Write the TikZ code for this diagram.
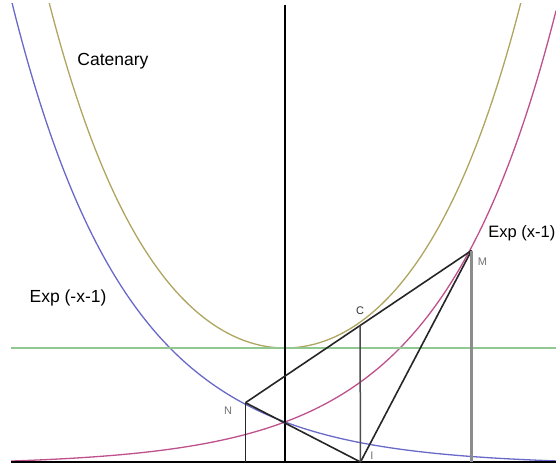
\documentclass[tikz,border=0pt]{standalone}
\usepackage{fontspec}
\setmainfont{Liberation Sans}
\definecolor{cblue}{RGB}{105,105,200}
\definecolor{colive}{RGB}{175,165,95}
\definecolor{cpink}{RGB}{190,80,140}
\definecolor{cgreen}{RGB}{145,200,145}
\begin{document}
\begin{tikzpicture}[x=1pt,y=-1pt,
  curve/.style={line width=1.3pt},
  seg/.style={line width=1.6pt, black!85},
  lbl/.style={font=\fontsize{11}{13}\selectfont, text=black!55, inner sep=0pt},
  big/.style={font=\fontsize{17.5}{20}\selectfont, inner sep=0pt}]
\useasboundingbox (0,0) rectangle (556,468);
% points
\coordinate (N) at (245.5,402.7);
\coordinate (M) at (471.5,250.5);
\coordinate (C) at (360,325.6);
\coordinate (I) at (360.5,462);
\coordinate (Nb) at (245.5,462);
\coordinate (Mb) at (471.5,462);
\coordinate (G1) at (11,348);
\coordinate (G2) at (556,348);
\coordinate (A1) at (11,462);
\coordinate (A2) at (556,462);
\coordinate (T) at (285,5);
\coordinate (B) at (285,462);
% curves
\begin{scope}
\clip (11,4) rectangle (556,468);
\draw[curve, cblue] plot[domain=11:556, samples=250] (\x, {465 - 117*exp(-(\x-285)/115 - 1)});
\draw[curve, cpink] plot[domain=11:556, samples=250] (\x, {465 - 117*exp((\x-285)/115 - 1)});
\draw[curve, colive] plot[domain=40:530, samples=250] (\x, {465 - 117*cosh((\x-285)/115)});
\end{scope}
% lines
\draw[line width=2.2pt, cgreen] (G1) -- (G2);
\draw[line width=2pt, black] (A1) -- (A2);
\draw[line width=1.5pt, black] (T) -- (B);
\draw[seg] (N) -- (M);
\draw[seg] (N) -- (I);
\draw[seg] (I) -- (M);
\draw[seg] (N) -- (Nb);
\draw[line width=1.5pt, black!70] (C) -- (I);
\draw[line width=2.5pt, black!45] (M) -- (Mb);
% labels
\node[big] (tcat) at (113,61) {Catenary};
\node[big] (tneg) at (68,298) {Exp (-x-1)};
\node[font=\fontsize{16.5}{19}\selectfont, inner sep=0pt, anchor=east] (tpos) at (555.5,233) {Exp (x-1)};
\node[lbl, text=black!80] (lC) at (360,311) {C};
\node[lbl] (lN) at (228,411) {N};
\node[lbl] (lM) at (482.5,262) {M};
\node[lbl] (lI) at (372,456) {I};
\end{tikzpicture}
\end{document}
